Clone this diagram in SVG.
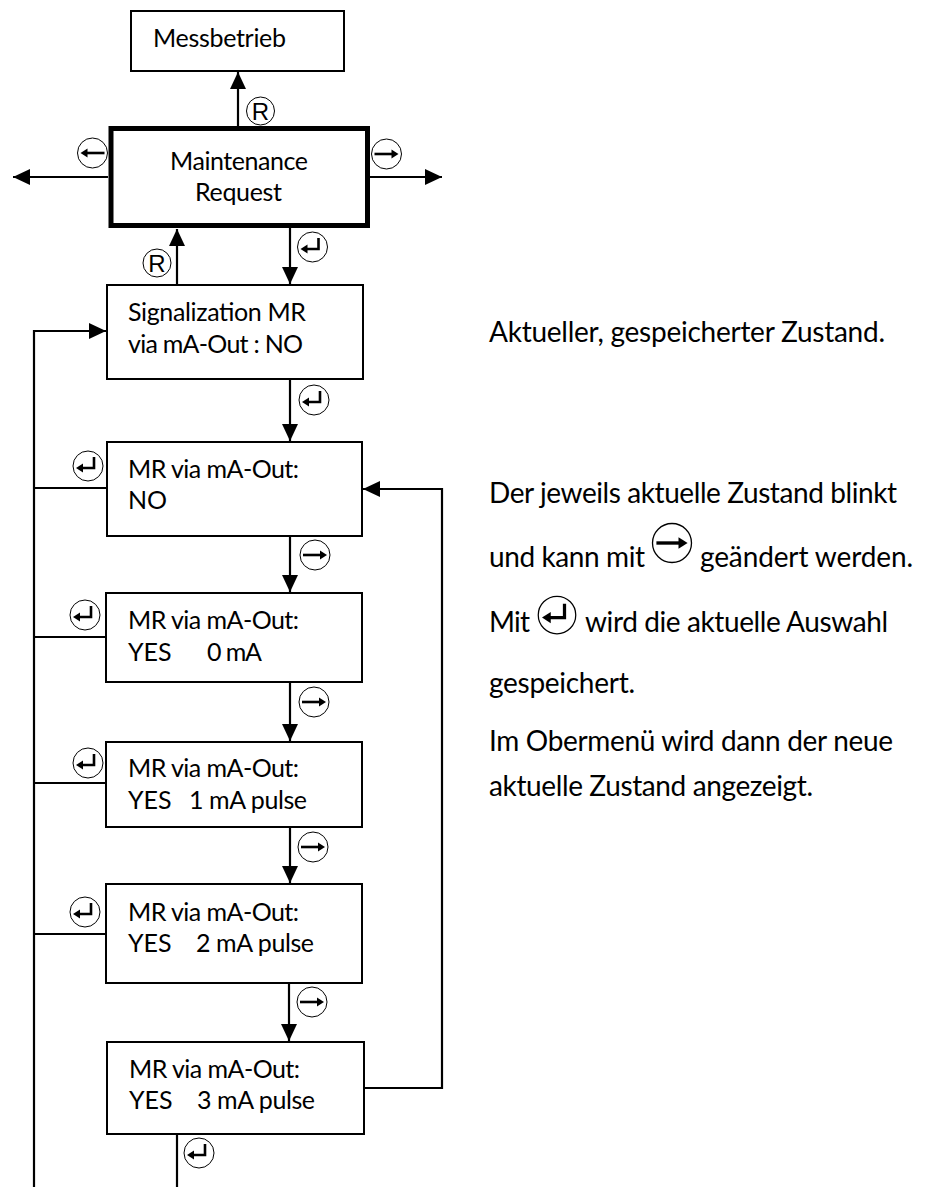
<svg xmlns="http://www.w3.org/2000/svg" xmlns:xlink="http://www.w3.org/1999/xlink" width="925" height="1187" viewBox="0 0 925 1187">
<style>
.box{fill:#fff;stroke:#000;stroke-width:2}
.thick{fill:#fff;stroke:#000;stroke-width:5}
.t{font-family:Lato,"Open Sans",sans-serif;font-size:25px;fill:#000}
.rt{font-size:28px}
.c{fill:none;stroke:#000;stroke-width:2.2}
.ic{fill:#fff;stroke:#000;stroke-width:1}
.ig{fill:none;stroke:#000;stroke-width:2.6}
.ir{font-family:"Liberation Sans",Arial,sans-serif;font-size:24px;fill:#000;text-anchor:middle}
</style>
<defs>
<marker id="arr" viewBox="0 0 17 16" refX="17" refY="8" markerWidth="17" markerHeight="16" orient="auto" markerUnits="userSpaceOnUse">
<path d="M0,0 L17,8 L0,16 z" fill="#000"/>
</marker>
<g id="iR"><circle r="14" class="ic"/><text class="ir" y="8.5">R</text></g>
<g id="iL"><circle r="15" class="ic"/><path d="M-6,0 H12" class="ig"/><path d="M-12,0 L-5,-4.5 L-5,4.5 z" fill="#000"/></g>
<g id="iRt"><circle r="15" class="ic"/><path d="M-12,0 H6" class="ig"/><path d="M12,0 L5,-4.5 L5,4.5 z" fill="#000"/></g>
<g id="iE"><circle r="15" class="ic"/><path d="M6,-9 V2 H-6" class="ig"/><path d="M-12,2 L-5,-2.5 L-5,6.5 z" fill="#000"/></g>
</defs>
<rect width="925" height="1187" fill="#fff"/>

<g id="connectors">
<path class="c" d="M238,126 V72" marker-end="url(#arr)"/>
<path class="c" d="M108,177 H13" marker-end="url(#arr)"/>
<path class="c" d="M370,177 H442" marker-end="url(#arr)"/>
<path class="c" d="M177,285 V229" marker-end="url(#arr)"/>
<path class="c" d="M290,228 V284" marker-end="url(#arr)"/>
<path class="c" d="M290,379 V441" marker-end="url(#arr)"/>
<path class="c" d="M290,536 V592" marker-end="url(#arr)"/>
<path class="c" d="M290,682 V741" marker-end="url(#arr)"/>
<path class="c" d="M290,827 V883" marker-end="url(#arr)"/>
<path class="c" d="M289,983 V1041" marker-end="url(#arr)"/>
<path class="c" d="M364,1088 H442 V489 H363" marker-end="url(#arr)"/>
<path class="c" d="M34,1187 V331 H106" marker-end="url(#arr)"/>
<path class="c" d="M107,488 H34 M106,637 H34 M106,783 H34 M106,934 H34"/>
<path class="c" d="M177,1134 V1187"/>
</g>

<g id="node-messbetrieb">
<rect class="box" x="131" y="11" width="213" height="60"/>
<text class="t" x="153" y="47" textLength="133">Messbetrieb</text>
</g>
<g id="node-maintenance">
<rect class="thick" x="111" y="128.5" width="256.5" height="97"/>
<text class="t" x="170" y="170" textLength="138">Maintenance</text>
<text class="t" x="195" y="201" textLength="87">Request</text>
</g>
<g id="node-signalization">
<rect class="box" x="107" y="285" width="256" height="94"/>
<text class="t" x="128" y="321" textLength="178">Signalization MR</text>
<text class="t" x="128" y="353" textLength="175">via mA-Out : NO</text>
</g>
<g id="node-no">
<rect class="box" x="107" y="442" width="255" height="94"/>
<text class="t" x="128" y="478" textLength="171">MR via mA-Out:</text>
<text class="t" x="128" y="509">NO</text>
</g>
<g id="node-0ma">
<rect class="box" x="106" y="593" width="256" height="89"/>
<text class="t" x="128" y="629" textLength="171">MR via mA-Out:</text>
<text class="t" x="128" y="661">YES</text>
<text class="t" x="207" y="661" textLength="55">0 mA</text>
</g>
<g id="node-1ma">
<rect class="box" x="106" y="742" width="256" height="85"/>
<text class="t" x="128" y="777" textLength="171">MR via mA-Out:</text>
<text class="t" x="128" y="809">YES</text>
<text class="t" x="189" y="809" textLength="118">1 mA pulse</text>
</g>
<g id="node-2ma">
<rect class="box" x="106" y="884" width="256" height="99"/>
<text class="t" x="128" y="921" textLength="171">MR via mA-Out:</text>
<text class="t" x="128" y="952">YES</text>
<text class="t" x="196" y="952" textLength="118">2 mA pulse</text>
</g>
<g id="node-3ma">
<rect class="box" x="107" y="1042" width="257" height="92"/>
<text class="t" x="129" y="1078" textLength="171">MR via mA-Out:</text>
<text class="t" x="129" y="1109">YES</text>
<text class="t" x="197" y="1109" textLength="118">3 mA pulse</text>
</g>

<g id="key-labels">
<use href="#iR" x="260.5" y="111"/>
<use href="#iL" x="92.5" y="153"/>
<use href="#iRt" x="386.5" y="154"/>
<use href="#iE" x="312.5" y="247"/>
<use href="#iR" x="157" y="263"/>
<use href="#iE" x="314" y="400"/>
<use href="#iRt" x="315" y="555"/>
<use href="#iRt" x="314" y="702"/>
<use href="#iRt" x="313" y="847"/>
<use href="#iRt" x="312" y="1002"/>
<use href="#iE" x="88" y="466"/>
<use href="#iE" x="85" y="615"/>
<use href="#iE" x="88" y="763"/>
<use href="#iE" x="85" y="912"/>
<use href="#iE" x="199" y="1153"/>
</g>

<g id="notes">
<text class="t rt" x="489" y="342" textLength="396">Aktueller, gespeicherter Zustand.</text>
<text class="t rt" x="489" y="503" textLength="408">Der jeweils aktuelle Zustand blinkt</text>
<text class="t rt" x="489" y="567" textLength="156">und kann mit</text>
<use href="#iRt" transform="translate(672,543) scale(1.3)"/>
<text class="t rt" x="700" y="567" textLength="213">geändert werden.</text>
<text class="t rt" x="489" y="632" textLength="41">Mit</text>
<use href="#iE" transform="translate(557,615) scale(1.25)"/>
<text class="t rt" x="585" y="632" textLength="303">wird die aktuelle Auswahl</text>
<text class="t rt" x="489" y="693" textLength="146">gespeichert.</text>
<text class="t rt" x="489" y="751" textLength="404">Im Obermenü wird dann der neue</text>
<text class="t rt" x="489" y="796" textLength="324">aktuelle Zustand angezeigt.</text>
</g>
</svg>
